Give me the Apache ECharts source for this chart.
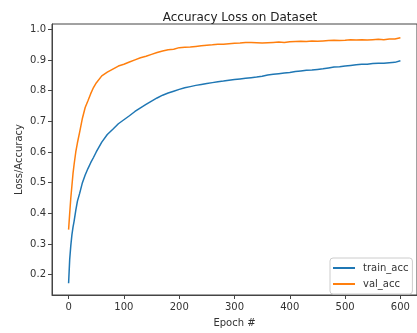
<!DOCTYPE html>
<html>
<head>
<meta charset="utf-8">
<title>Accuracy Loss on Dataset</title>
<script src="https://cdn.jsdelivr.net/npm/echarts@6/dist/echarts.min.js"></script>
<style>
  html, body { margin: 0; padding: 0; background: #fff; }
  #main { width: 417px; height: 333px; }
</style>
</head>
<body>
<div id="main"></div>
<script>
// epochs (denser where the curves climb fast)
var epochs = [0, 2, 4, 6, 8, 10, 13, 16, 20, 25, 30, 35, 40, 45, 50,
  60, 70, 80, 90, 100, 110, 120, 130, 140, 150, 160, 170, 180, 190, 200,
  210, 220, 230, 240, 250, 260, 270, 280, 290, 300, 310, 320, 330, 340, 350,
  360, 370, 380, 390, 400, 410, 420, 430, 440, 450, 460, 470, 480, 490, 500,
  510, 520, 530, 540, 550, 560, 570, 580, 590, 600];

var trainAcc = [0.172, 0.25, 0.295, 0.33, 0.355, 0.375, 0.41, 0.44, 0.465, 0.50, 0.525, 0.546, 0.565, 0.582, 0.60,
  0.632, 0.657, 0.674, 0.692, 0.705, 0.718, 0.732, 0.744, 0.755, 0.766, 0.776, 0.785, 0.792, 0.798, 0.804,
  0.809, 0.813, 0.817, 0.82, 0.823, 0.826, 0.829, 0.831, 0.834, 0.836, 0.838, 0.84, 0.842, 0.844, 0.847,
  0.851, 0.853, 0.855, 0.857, 0.859, 0.862, 0.864, 0.866, 0.867, 0.869, 0.871, 0.874, 0.877, 0.878, 0.88,
  0.882, 0.884, 0.886, 0.886, 0.888, 0.889, 0.889, 0.891, 0.892, 0.897];

var valAcc = [0.347, 0.40, 0.45, 0.49, 0.53, 0.56, 0.60, 0.63, 0.665, 0.71, 0.745, 0.767, 0.79, 0.81, 0.825,
  0.848, 0.86, 0.87, 0.88, 0.886, 0.893, 0.90, 0.907, 0.912, 0.918, 0.924, 0.929, 0.933, 0.935, 0.94,
  0.941, 0.942, 0.944, 0.946, 0.948, 0.949, 0.951, 0.951, 0.953, 0.954, 0.955, 0.957, 0.957, 0.956, 0.955,
  0.956, 0.957, 0.958, 0.957, 0.959, 0.96, 0.961, 0.96, 0.962, 0.961, 0.962, 0.963, 0.964, 0.963, 0.964,
  0.966, 0.965, 0.966, 0.965, 0.966, 0.967, 0.966, 0.968, 0.968, 0.972];

var xTicks = [0, 100, 200, 300, 400, 500, 600];
var yTicks = [0.2, 0.3, 0.4, 0.5, 0.6, 0.7, 0.8, 0.9, 1.0];

var font = 'DejaVu Sans';
var spine = '#444';

function pairs(values) {
  return epochs.map(function (e, i) { return [e, values[i]]; });
}

var myChart = echarts.init(document.getElementById('main'));
myChart.setOption({
  backgroundColor: '#fff',
  animation: false,
  title: {
    text: 'Accuracy Loss on Dataset',
    left: 235, top: 7, textAlign: 'center',
    textStyle: { fontFamily: font, fontSize: 12, fontWeight: 'normal', color: '#222' }
  },
  grid: {
    left: 52, top: 24, width: 366, height: 274,
    show: true, borderColor: spine, borderWidth: 1, backgroundColor: '#fff'
  },
  legend: {
    orient: 'vertical',
    left: 330, top: 258,
    padding: [5, 4, 5, 3],
    icon: 'rect',
    itemWidth: 22, itemHeight: 2, itemGap: 6,
    borderColor: '#ccc', borderWidth: 1, borderRadius: 3,
    backgroundColor: 'rgba(255,255,255,0.8)',
    textStyle: { fontFamily: font, fontSize: 10, color: '#333', padding: [0, 0, 0, 3] },
    data: ['train_acc', 'val_acc']
  },
  xAxis: {
    type: 'value', min: -30, max: 630,
    name: 'Epoch #', nameLocation: 'middle', nameGap: 23, nameMoveOverlap: false,
    nameTextStyle: { fontFamily: font, fontSize: 10, color: '#333' },
    axisLine: { show: true, onZero: false, lineStyle: { color: spine, width: 1 } },
    axisTick: { show: true, length: 4, customValues: xTicks, lineStyle: { color: spine } },
    axisLabel: { customValues: xTicks, margin: 7, fontFamily: font, fontSize: 10, color: '#333' },
    splitLine: { show: false }
  },
  yAxis: {
    type: 'value', min: 0.134, max: 1.017,
    name: 'Loss/Accuracy', nameLocation: 'middle', nameGap: 28, nameMoveOverlap: false,
    nameTextStyle: { fontFamily: font, fontSize: 10, color: '#333' },
    axisLine: { show: true, onZero: false, lineStyle: { color: spine, width: 1 } },
    axisTick: { show: true, length: 4, customValues: yTicks, lineStyle: { color: spine } },
    axisLabel: {
      customValues: yTicks, margin: 6, fontFamily: font, fontSize: 10, color: '#333',
      formatter: function (v) { return v.toFixed(1); }
    },
    splitLine: { show: false }
  },
  series: [
    {
      name: 'train_acc', type: 'line', data: pairs(trainAcc),
      symbol: 'none', color: '#1f77b4',
      lineStyle: { width: 1.5, color: '#1f77b4' }
    },
    {
      name: 'val_acc', type: 'line', data: pairs(valAcc),
      symbol: 'none', color: '#ff7f0e',
      lineStyle: { width: 1.5, color: '#ff7f0e' }
    }
  ]
});
</script>
</body>
</html>
